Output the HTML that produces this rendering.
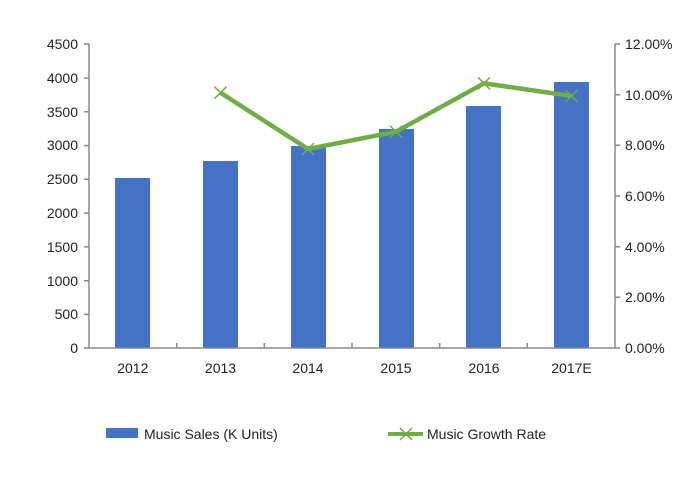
<!DOCTYPE html>
<html><head><meta charset="utf-8"><style>body{margin:0;background:#fff}svg text{font-family:"Liberation Sans",sans-serif;font-size:14px;fill:#222}</style></head><body>
<svg width="679" height="474" xmlns="http://www.w3.org/2000/svg">
<rect width="679" height="474" fill="#fff"/>
<g fill="#4472c4">
<rect x="115" y="178" width="35" height="170"/>
<rect x="203" y="161" width="35" height="187"/>
<rect x="291" y="146" width="35" height="202"/>
<rect x="379" y="129" width="35" height="219"/>
<rect x="466" y="106" width="35" height="242"/>
<rect x="554" y="82" width="35" height="266"/>
</g>
<g stroke="#888" stroke-width="1.5" fill="none">
<line x1="89" y1="44" x2="89" y2="348"/>
<line x1="615" y1="44" x2="615" y2="348"/>
<line x1="89" y1="348" x2="615" y2="348"/>
<path d="M84 44H89M84 78H89M84 111.8H89M84 145.6H89M84 179.3H89M84 213.1H89M84 246.9H89M84 280.7H89M84 314.4H89M84 348H89"/>
<path d="M615 44H620M615 94.7H620M615 145.3H620M615 196H620M615 246.7H620M615 297.3H620M615 348H620"/>
<path d="M176.7 343V348M264.3 343V348M352 343V348M439.7 343V348M527.3 343V348"/>
</g>
<polyline points="220.5,92.7 308,149 396,131.7 484,83.3 571.5,96" fill="none" stroke="#70ad47" stroke-width="4.5" stroke-linejoin="round"/>
<g stroke="#70ad47" stroke-width="1.5">
<path d="M214.5 86.7l12 12M226.5 86.7l-12 12"/>
<path d="M302 143l12 12M314 143l-12 12"/>
<path d="M390 125.7l12 12M402 125.7l-12 12"/>
<path d="M478 77.3l12 12M490 77.3l-12 12"/>
<path d="M565.5 90l12 12M577.5 90l-12 12"/>
</g>
<g text-anchor="end">
<text x="78" y="49">4500</text><text x="78" y="83">4000</text><text x="78" y="117">3500</text><text x="78" y="150">3000</text><text x="78" y="184">2500</text><text x="78" y="218">2000</text><text x="78" y="252">1500</text><text x="78" y="286">1000</text><text x="78" y="319">500</text><text x="78" y="353">0</text>
</g>
<g>
<text x="625" y="49">12.00%</text><text x="625" y="100">10.00%</text><text x="625" y="150">8.00%</text><text x="625" y="201">6.00%</text><text x="625" y="252">4.00%</text><text x="625" y="302">2.00%</text><text x="625" y="353">0.00%</text>
</g>
<g text-anchor="middle">
<text x="132.8" y="373">2012</text><text x="220.5" y="373">2013</text><text x="308" y="373">2014</text><text x="396" y="373">2015</text><text x="484" y="373">2016</text><text x="571.5" y="373">2017E</text>
</g>
<rect x="106" y="428" width="32" height="10" fill="#4472c4"/>
<text x="144" y="439">Music Sales (K Units)</text>
<line x1="388" y1="434" x2="423" y2="434" stroke="#70ad47" stroke-width="4"/>
<path d="M400 428l12 12M412 428l-12 12" stroke="#70ad47" stroke-width="1.5"/>
<text x="427" y="439">Music Growth Rate</text>
</svg>
</body></html>
